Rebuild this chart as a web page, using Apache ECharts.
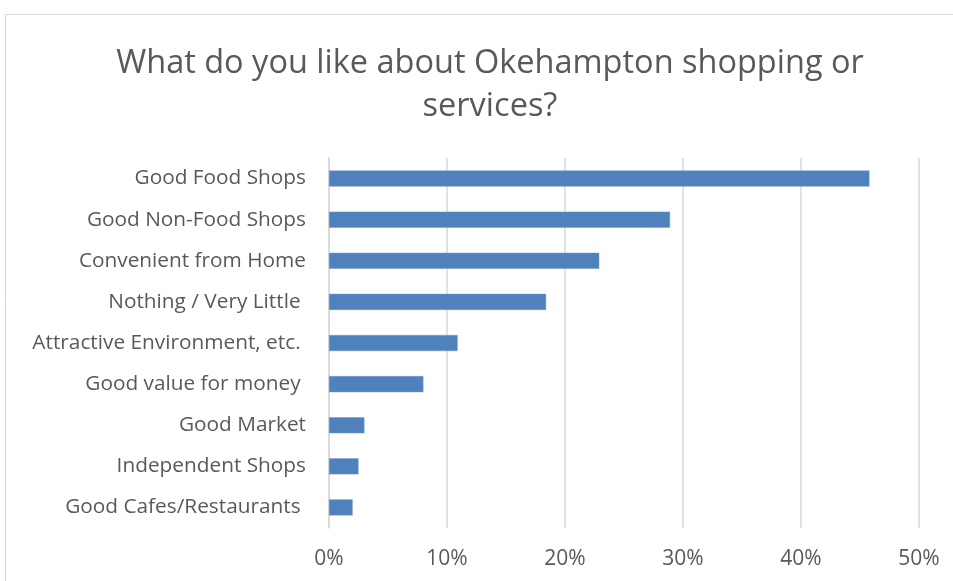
<!DOCTYPE html>
<html>
<head>
<meta charset="utf-8">
<script src="https://cdn.jsdelivr.net/npm/echarts@6/dist/echarts.min.js"></script>
<style>
html,body{margin:0;padding:0;background:#fff;}
#chart{width:953px;height:581px;}
</style>
</head>
<body>
<div id="chart"></div>
<script>
const titleText = "What do you like about Okehampton shopping or\nservices?";
const categories = [
  "Good Food Shops",
  "Good Non-Food Shops",
  "Convenient from Home",
  "Nothing / Very Little ",
  "Attractive Environment, etc. ",
  "Good value for money ",
  "Good Market",
  "Independent Shops",
  "Good Cafes/Restaurants "
];
const values = [45.8, 28.9, 22.9, 18.4, 10.9, 8.0, 3.0, 2.5, 2.0];
const xTicks = [0, 10, 20, 30, 40, 50];

const chart = echarts.init(document.getElementById('chart'), null, {renderer: 'canvas'});
const font = 'Open Sans';
chart.setOption({
  backgroundColor: '#ffffff',
  animation: false,
  graphic: [{
    type: 'rect',
    shape: {x: 5.5, y: 14.5, width: 1000, height: 1000},
    style: {fill: 'none', stroke: '#d9d9d9', lineWidth: 1},
    silent: true
  }],
  title: {
    text: titleText,
    left: 485,
    top: 37,
    textAlign: 'center',
    textStyle: {
      fontFamily: font,
      fontSize: 32.5,
      fontWeight: 'normal',
      color: '#595959',
      lineHeight: 43
    }
  },
  grid: {left: 329, right: 34, top: 158, bottom: 53, containLabel: false},
  xAxis: {
    type: 'value',
    min: xTicks[0],
    max: xTicks[xTicks.length - 1],
    interval: 10,
    axisLine: {show: false},
    axisTick: {show: false},
    splitLine: {show: true, lineStyle: {color: '#d9d9d9', width: 1.5}},
    axisLabel: {
      formatter: v => v + '%',
      fontFamily: font,
      fontSize: 21,
      color: '#595959',
      margin: 21
    }
  },
  yAxis: {
    type: 'category',
    data: categories,
    inverse: true,
    axisLine: {show: true, lineStyle: {color: '#d9d9d9', width: 1.5}},
    axisTick: {show: false},
    axisLabel: {
      fontFamily: font,
      fontSize: 20.8,
      color: '#595959',
      margin: 23,
      padding: [3, 0, 0, 0]
    }
  },
  series: [{
    type: 'bar',
    data: values,
    barCategoryGap: '61%',
    itemStyle: {color: '#4f81bd', borderColor: '#7396c8', borderWidth: 0.5}
  }]
});
</script>
</body>
</html>
